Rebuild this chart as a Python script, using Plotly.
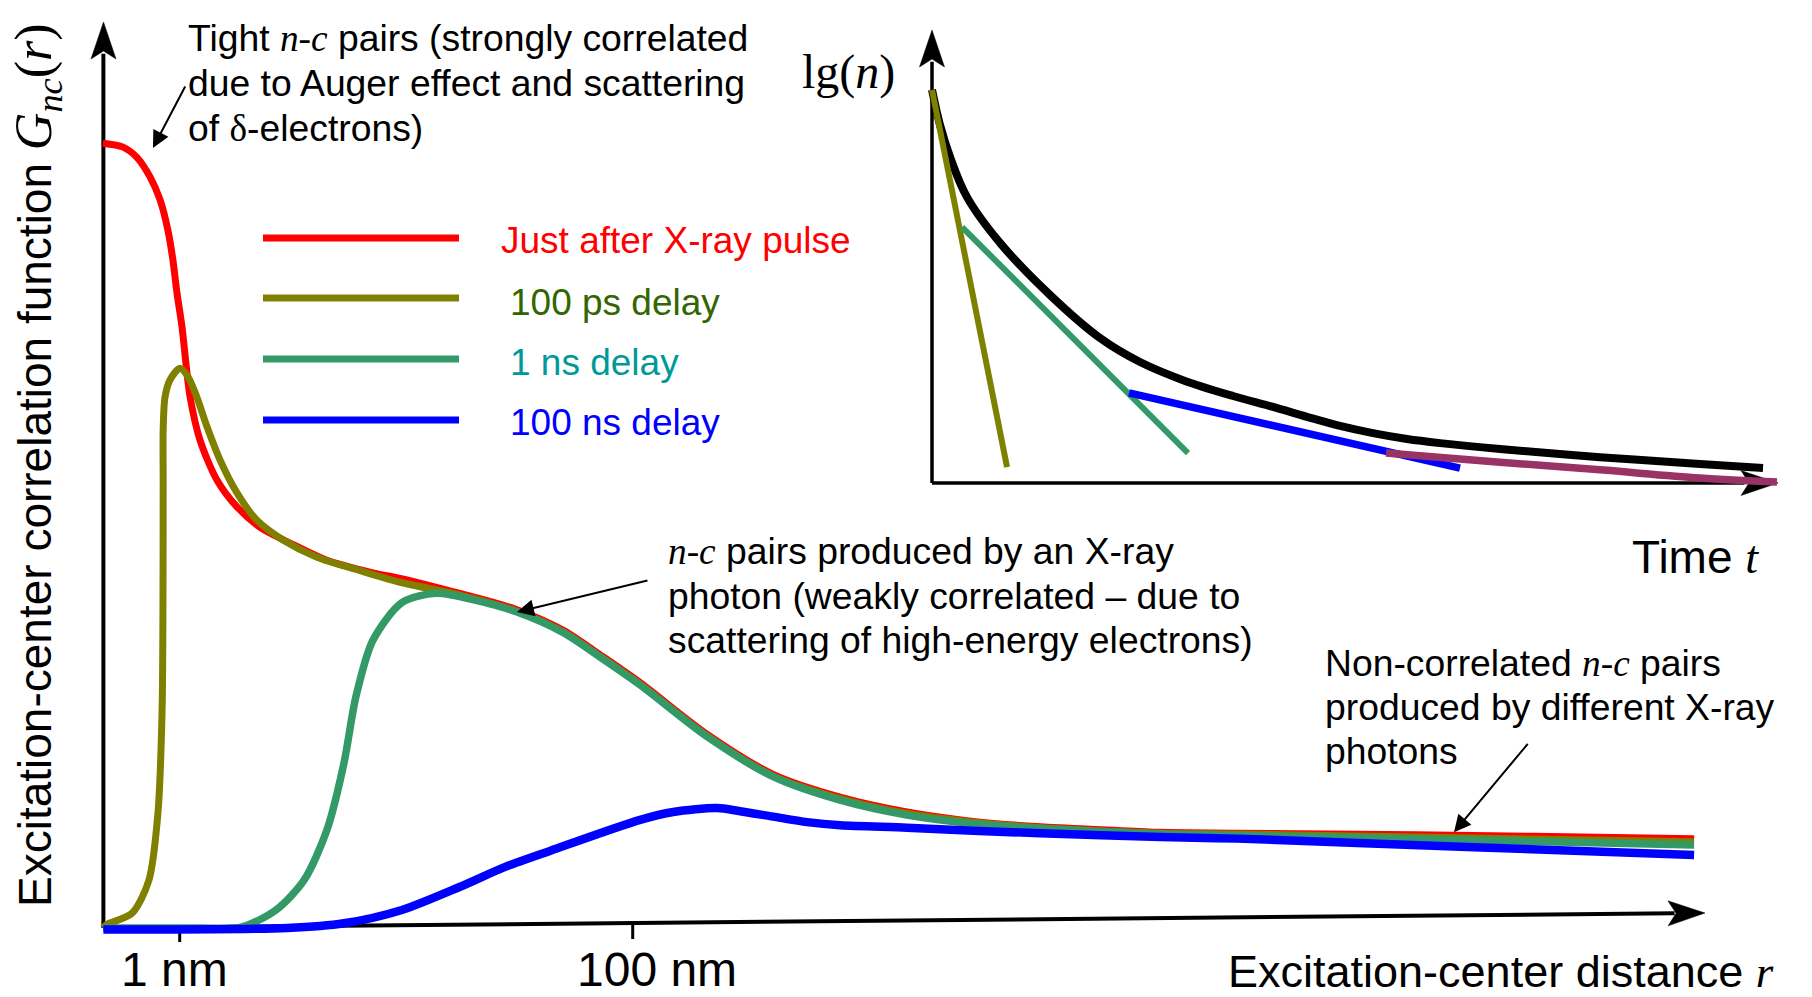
import plotly.graph_objects as go
import math

W, H = 1812, 997

# ---------------- data: main chart ----------------
# x = log10(r / 1 nm), y = correlation function G_nc (arbitrary units)
red_lgr = [-0.339, -0.250, -0.189, -0.131, -0.087, -0.052, -0.030, -0.012, 0.010, 0.028, 0.046, 0.090,
           0.165, 0.253, 0.355, 0.487, 0.650, 0.853, 0.973, 1.233, 1.489, 1.692, 1.869, 2.033, 2.329,
           2.620, 2.916, 3.211, 3.503, 3.799, 4.095, 4.329, 4.668, 5.454, 5.980, 6.686]
red_g = [100.1, 99.6, 98.3, 95.8, 92.9, 89.0, 85.2, 81.0, 76.7, 71.9, 67.7, 62.2,
         57.1, 53.7, 51.1, 49.1, 46.9, 45.3, 44.6, 42.7, 40.6, 38.0, 34.6, 31.3, 24.7,
         19.6, 16.7, 14.8, 13.6, 12.9, 12.5, 12.2, 12.1, 11.9, 11.7, 11.4]

olive_lgr = [-0.337, -0.325, -0.210, -0.136, -0.096, -0.078, -0.074, -0.073, -0.073, -0.065, -0.043,
             0.001, 0.037, 0.076, 0.121, 0.178, 0.253, 0.341, 0.456, 0.606, 0.783, 0.973, 1.233,
             1.489, 1.692, 1.869, 2.033, 2.329, 2.620, 2.916, 3.211, 3.503, 3.799, 4.329, 4.668,
             5.454, 6.686]
olive_g = [0.0, 0.4, 1.9, 6.1, 14.7, 27.4, 40.2, 57.1, 63.5, 67.7, 69.9,
           71.4, 70.3, 67.7, 63.9, 59.7, 55.5, 52.0, 49.5, 47.3, 45.7, 44.1, 42.5,
           40.4, 37.8, 34.4, 31.1, 24.5, 19.4, 16.5, 14.6, 13.5, 12.8, 12.1, 12.0,
           11.6, 11.0]

green_lgr = [-0.337, 0.090, 0.271, 0.425, 0.549, 0.650, 0.725, 0.778, 0.853, 0.981, 1.131, 1.308,
             1.489, 1.692, 1.869, 2.033, 2.329, 2.620, 2.916, 3.211, 3.503, 3.799, 4.329, 4.668,
             5.714, 6.686]
green_g = [0.0, 0.0, 0.1, 2.3, 6.1, 12.5, 21.0, 29.5, 36.7, 41.5, 42.7, 41.8,
           40.3, 37.7, 34.3, 31.0, 24.4, 19.3, 16.3, 14.4, 13.3, 12.7, 12.0, 11.8,
           11.2, 10.6]

blue_lgr = [-0.337, 0.475, 0.725, 0.981, 1.233, 1.437, 1.640, 2.033, 2.179, 2.372, 2.474, 2.620,
            2.770, 2.916, 3.211, 3.503, 3.799, 4.329, 4.668, 5.714, 6.686]
blue_g = [-0.2, 0.0, 0.6, 2.3, 5.2, 7.8, 9.9, 13.8, 14.8, 15.3, 14.9, 14.2,
          13.5, 13.1, 12.8, 12.4, 12.1, 11.6, 11.4, 10.3, 9.3]

series_names = ["Just after X-ray pulse", "100 ps delay", "1 ns delay", "100 ns delay"]
tick_vals = [0, 2]
tick_text = ["1 nm", "100 nm"]

# ---------------- data: inset (time t vs lg n, arbitrary units) ----------------
inset_t_black = [0, 0.095, 0.213, 0.414, 0.804, 1.395, 1.986, 2.459, 2.967, 3.558, 4.031, 4.433,
                 4.823, 5.213, 5.615, 6.005, 6.714, 7.896, 9.078, 9.823]
inset_lgn_black = [8.68, 7.90, 7.20, 6.31, 5.30, 4.15, 3.20, 2.67, 2.27, 1.92, 1.68, 1.46,
                   1.26, 1.10, 0.97, 0.88, 0.75, 0.57, 0.42, 0.33]
inset_t_olive = [0, 0.887]
inset_lgn_olive = [8.68, 0.35]
inset_t_green = [0.355, 3.026]
inset_lgn_green = [5.65, 0.66]
inset_t_blue = [2.329, 6.241]
inset_lgn_blue = [1.99, 0.33]
inset_t_purple = [5.366, 6.714, 7.896, 9.078, 9.988]
inset_lgn_purple = [0.66, 0.46, 0.29, 0.11, 0.02]

# ---------------- styling / layout constants ----------------
RED, OLIVE, GREEN, BLUE, PURPLE = "#ff0000", "#808000", "#339966", "#0000ff", "#993366"
TXT_COLORS = ["#ff0000", "#336600", "#009999", "#0000ff"]
SANS = "Liberation Sans, Arial, sans-serif"
SERIF = "Liberation Serif"

# main axes pixel mapping
X0PX, DEC = 179.7, 226.5       # pixel of lg r = 0, pixels per decade
Y0PX, GPX = 928.0, 7.84        # pixel of G = 0, pixels per unit
XR = [-0.40, 6.76]
YR = [-2.5, 115.6]
# inset mapping
IX0, ITPX = 932.0, 84.6
IY0, ILPX = 483.0, 45.3
IXR = [-0.2, 10.2]
IYR = [-0.3, 10.2]


def P(x, y):
    return x / W, 1 - y / H


def head_path(tip, ang_deg, L=37, hw=12.5, notch=8):
    a = math.radians(ang_deg)
    dx, dy = math.cos(a), math.sin(a)
    nx, ny = -dy, dx
    tx, ty = tip
    bl = (tx - L * dx + hw * nx, ty - L * dy + hw * ny)
    br = (tx - L * dx - hw * nx, ty - L * dy - hw * ny)
    nt = (tx - (L - notch) * dx, ty - (L - notch) * dy)
    s = ""
    for i, (px, py) in enumerate([tip, bl, nt, br]):
        u, v = P(px, py)
        s += ("M" if i == 0 else "L") + f"{u:.5f},{v:.5f} "
    return s + "Z"


fig = go.Figure()

# main curves
for xs, ys, col, w, nm in [(red_lgr, red_g, RED, 7, series_names[0]),
                            (olive_lgr, olive_g, OLIVE, 7, series_names[1]),
                            (green_lgr, green_g, GREEN, 7.5, series_names[2]),
                            (blue_lgr, blue_g, BLUE, 8.5, series_names[3])]:
    fig.add_trace(go.Scatter(x=xs, y=ys, mode="lines", name=nm, showlegend=False,
                             line=dict(color=col, width=w, shape="spline", smoothing=0.8),
                             xaxis="x", yaxis="y", hoverinfo="skip"))

# inset curves
for xs, ys, col, w, shp in [(inset_t_black, inset_lgn_black, "#000000", 8, "spline"),
                             (inset_t_olive, inset_lgn_olive, OLIVE, 6, "linear"),
                             (inset_t_green, inset_lgn_green, GREEN, 6, "linear"),
                             (inset_t_blue, inset_lgn_blue, BLUE, 7.5, "linear"),
                             (inset_t_purple, inset_lgn_purple, PURPLE, 7.5, "spline")]:
    fig.add_trace(go.Scatter(x=xs, y=ys, mode="lines", showlegend=False,
                             line=dict(color=col, width=w, shape=shp),
                             xaxis="x2", yaxis="y2", hoverinfo="skip"))

shapes = []
# main axes lines (data coords)
shapes.append(dict(type="line", xref="x", yref="y", x0=-0.337, y0=0, x1=-0.337, y1=111.5,
                   line=dict(color="black", width=4), layer="below"))
shapes.append(dict(type="line", xref="x", yref="y", x0=-0.337, y0=0, x1=6.60, y1=1.88,
                   line=dict(color="black", width=4), layer="below"))
# ticks on tilted axis
shapes.append(dict(type="line", xref="x", yref="y", x0=0, y0=0.09, x1=0, y1=-1.8,
                   line=dict(color="black", width=3), layer="below"))
shapes.append(dict(type="line", xref="x", yref="y", x0=2, y0=0.64, x1=2, y1=-1.4,
                   line=dict(color="black", width=3), layer="below"))
# inset axes
shapes.append(dict(type="line", xref="x2", yref="y2", x0=0, y0=0, x1=0, y1=9.3,
                   line=dict(color="black", width=3.5), layer="below"))
shapes.append(dict(type="line", xref="x2", yref="y2", x0=0, y0=0, x1=9.6, y1=0,
                   line=dict(color="black", width=3.5), layer="below"))
# arrow heads
ang_main = math.degrees(math.atan2(913 - 928, 1705 - 103))
for tip, ang in [((103.5, 22), -90), ((1705, 913), ang_main), ((932, 30), -90), ((1778, 483), 0)]:
    shapes.append(dict(type="path", xref="paper", yref="paper", path=head_path(tip, ang),
                       fillcolor="black", line=dict(color="black", width=0.5), layer="below"))
# legend sample lines
for yy, col in zip([238, 298, 359, 420], [RED, OLIVE, GREEN, BLUE]):
    x0, y0 = P(263, yy)
    x1, _ = P(459, yy)
    shapes.append(dict(type="line", xref="paper", yref="paper", x0=x0, y0=y0, x1=x1, y1=y0,
                       line=dict(color=col, width=7)))

NC = f"<i><span style=\"font-family:{SERIF}\">n-c</span></i>"
ann = []


def txt(x, y, s, size=37.3, color="black", xanchor="left", **kw):
    u, v = P(x, y)
    d = dict(x=u, y=v, xref="paper", yref="paper", text=s, showarrow=False,
             xanchor=xanchor, yanchor="middle", align="left",
             font=dict(family=SANS, size=size, color=color))
    d.update(kw)
    ann.append(d)


def block(x, ys, lines, **kw):
    for yy, s in zip(ys, lines):
        txt(x, yy, s, **kw)


block(186, [38, 83, 128], [f"Tight {NC} pairs (strongly correlated",
                           "due to Auger effect and scattering",
                           f"of <span style=\"font-family:{SERIF}\">δ</span>-electrons)"])
block(666, [551, 596, 640], [f"{NC} pairs produced by an X-ray",
                             "photon (weakly correlated – due to",
                             "scattering of high-energy electrons)"])
block(1323, [663, 707, 751], [f"Non-correlated {NC} pairs",
                              "produced by different X-ray",
                              "photons"])

# legend texts
for (xx, yy), s, c in zip([(499, 240), (508, 302), (508, 362), (508, 422)], series_names, TXT_COLORS):
    txt(xx, yy, s, size=37, color=c)

# axis labels
txt(1226, 971, f"Excitation-center distance <i><span style=\"font-family:{SERIF}\">r</span></i>", size=45)
txt(1630, 557, f"Time <i><span style=\"font-family:{SERIF}\">t</span></i>", size=46)
txt(800, 72, f"<span style=\"font-family:{SERIF}\">lg(<i>n</i>)</span>", size=48)
u, v = P(37, 465)
ann.append(dict(x=u, y=v, xref="paper", yref="paper", showarrow=False, textangle=-90,
                xanchor="center", yanchor="middle",
                text=("Excitation-center correlation function "
                      f"<span style=\"font-family:{SERIF};font-size:52px\"><i>G</i><sub><i>nc</i></sub>(<i>r</i>)</span>"),
                font=dict(family=SANS, size=46, color="black")))

# tick labels
for tv, tt, sh in zip(tick_vals, tick_text, [-5, 24]):
    _, v = P(0, 969)
    ann.append(dict(x=tv, y=v, xref="x", yref="paper", text=tt, showarrow=False, xshift=sh,
                    xanchor="center", yanchor="middle", font=dict(family=SANS, size=48, color="black")))

# pointer arrows (tips on the curves, in data coordinates)
for (tx, ty), (ax, ay) in [((-0.118, 99.5), (33, -63)), ((1.489, 40.3), (132, -32)),
                           ((5.626, 12.2), (75, -90))]:
    ann.append(dict(x=tx, y=ty, xref="x", yref="y", text="", showarrow=True, ax=ax, ay=ay,
                    arrowhead=2, arrowsize=1.7, arrowwidth=2, arrowcolor="black", standoff=0))

fig.update_layout(shapes=shapes, annotations=ann)


def dom_x(r, x0, s):
    return [(x0 + r[0] * s) / W, (x0 + r[1] * s) / W]


def dom_y(r, y0, s):
    return [1 - (y0 - r[0] * s) / H, 1 - (y0 - r[1] * s) / H]


ax_common = dict(showgrid=False, zeroline=False, showline=False, showticklabels=False, ticks="",
                 fixedrange=True)
fig.update_layout(
    width=W, height=H, margin=dict(l=0, r=0, t=0, b=0),
    paper_bgcolor="white", plot_bgcolor="rgba(0,0,0,0)",
    showlegend=False,
    xaxis=dict(range=XR, domain=dom_x(XR, X0PX, DEC), anchor="y", **ax_common),
    yaxis=dict(range=YR, domain=dom_y(YR, Y0PX, GPX), anchor="x", **ax_common),
    xaxis2=dict(range=IXR, domain=dom_x(IXR, IX0, ITPX), anchor="y2", **ax_common),
    yaxis2=dict(range=IYR, domain=dom_y(IYR, IY0, ILPX), anchor="x2", **ax_common),
)

fig.write_html("out.html")
